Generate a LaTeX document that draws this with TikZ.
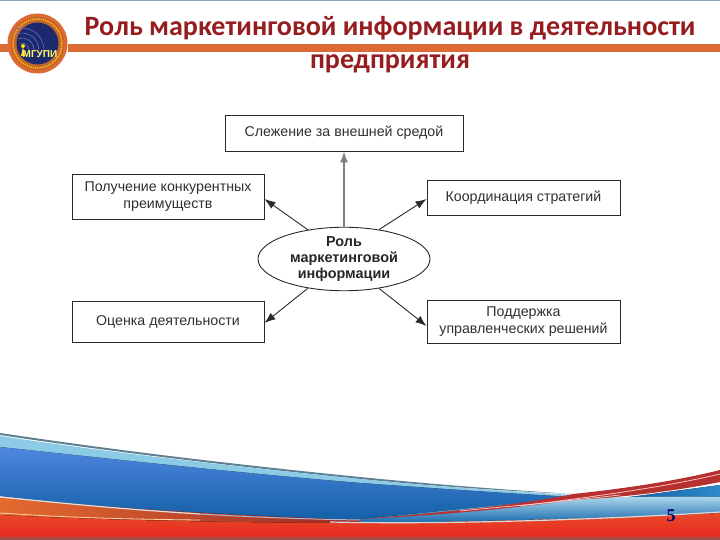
\documentclass[tikz,border=0pt]{standalone}
\usepackage{fontspec}
\setmainfont{Liberation Sans}
\newfontfamily\titlefont{Carlito}
\newfontfamily\numfont{Liberation Serif}
\usetikzlibrary{shapes.geometric,arrows.meta}
\definecolor{titlered}{HTML}{951C1F}
\definecolor{barorange}{HTML}{DD6A33}
\definecolor{inktext}{HTML}{303030}
\definecolor{boxline}{HTML}{2A2A2A}
\definecolor{bluetop}{HTML}{2E8BCB}
\definecolor{bluelow}{HTML}{135FA6}
\definecolor{lightband}{HTML}{8CCBE6}
\definecolor{redtop}{HTML}{E8492A}
\definecolor{redlow}{HTML}{E62A1E}
\definecolor{ribbon}{HTML}{B5312F}
\definecolor{slateline}{HTML}{5F7F92}
\definecolor{lognavy}{HTML}{1E2A6E}
\definecolor{logring}{HTML}{C8652B}
\definecolor{wedgeorange}{HTML}{E56A2E}
\definecolor{paleline}{HTML}{B9B4CC}
\tikzset{
 infobox/.style={draw=boxline,line width=0.9pt,fill=white,align=center,text=inktext,font=\fontsize{14.2}{17}\selectfont,inner sep=0pt},
 rolearrow/.style={draw=boxline,line width=0.9pt,-{Latex[length=11pt,width=8pt]}},
 uparrow/.style={draw=gray,line width=1.4pt,-{Latex[length=11pt,width=8pt]}},
 titletext/.style={text=titlered,font=\titlefont\bfseries\fontsize{28}{33}\selectfont,align=center,inner sep=0pt}
}
\begin{document}
\begin{tikzpicture}[x=1pt,y=-1pt]
\useasboundingbox (0,0) rectangle (720,540);
\fill[white] (0,0) rectangle (720,540);
\fill[slateline!70] (0,0) rectangle (720,1);
% title bar
\fill[barorange] (0,44) rectangle (10,52);
\fill[barorange] (68,44) rectangle (720,52);
% logo
\fill[barorange] (37.5,43.5) circle (30);
\fill[logring] (37.5,43.5) circle (27);
\draw[yellow!70!orange,line width=1.2pt,dash pattern=on 1.2pt off 1pt] (37.5,43.5) circle (24.5);
\fill[lognavy] (37.5,43.5) circle (21);
\foreach \r in {7,12,17,22}{\draw[blue!45!gray!80!white,line width=0.6pt] (22+\r,50) arc (0:-110:\r);}
\fill[yellow!85!orange] (21,56) -- (23,47) -- (25,56) -- cycle;
\fill[yellow!85!orange] (23,46) circle (2);
\node[inner sep=0pt,text=yellow!60!white,font=\bfseries\fontsize{10}{10}\selectfont] (logotext) at (40,54) {МГУПИ};
\node[titletext] (title) at (390,44.5) {Роль маркетинговой информации в деятельности\\предприятия};
% banner
\fill[slateline] (0,433) .. controls (120,451) and (240,465) .. (360,477) .. controls (440,485) and (510,490) .. (573,494) .. controls (510,491) and (440,487) .. (360,479) .. controls (240,467) and (120,453) .. (0,435) -- cycle;
\fill[lightband] (0,436) .. controls (120,454) and (240,467) .. (360,479) .. controls (440,487) and (510,491) .. (573,495) -- (573,497) .. controls (500,493) and (430,488) .. (360,483) .. controls (240,473) and (120,460) .. (0,447) -- cycle;
\fill[top color=bluetop!75!blue!80!white,middle color=bluetop,bottom color=bluelow] (0,447) .. controls (120,460) and (240,473) .. (360,483) .. controls (430,488) and (500,493) .. (573,497) -- (573,500) -- (360,521) .. controls (190,515) and (90,506) .. (0,496) -- cycle;
\fill[left color=bluelow,right color=bluetop] (720,485) -- (720,497) -- (630,497) -- cycle;
% right light section
\fill[top color=lightband!70!white,bottom color=bluelow!80!bluetop] (360,519) -- (573,498) .. controls (620,497) and (680,496) .. (720,497) -- (720,513) .. controls (620,517) and (480,522) .. (360,523) -- cycle;
% orange wedge
\fill[left color=wedgeorange,right color=ribbon!85!black] (0,497) .. controls (90,506) and (190,514) .. (360,520) -- (360,524) -- (100,524) -- (0,515) -- cycle;
\draw[gray!25,line width=1.2pt] (0,497) .. controls (60,503) and (120,509) .. (200,514);
\draw[paleline,line width=1pt] (200,514) .. controls (250,517) and (300,519) .. (360,520);
% red base
\fill[top color=redtop,bottom color=redlow] (0,515) .. controls (100,520) and (240,523) .. (360,523) .. controls (480,522) and (620,518) .. (720,513) -- (720,537) -- (0,537) -- cycle;
\fill[red!50!black!70] (0,537) rectangle (720,540);
\draw[orange!35!white,line width=0.8pt] (0,513) .. controls (60,517) and (110,519) .. (200,520);
\draw[gray!30,line width=1.2pt] (330,522) .. controls (420,524) and (560,522) .. (720,512);
% ribbon
\fill[ribbon] (360,519) .. controls (440,513) and (520,505) .. (573,494) .. controls (630,488) and (680,480) .. (720,470) -- (720,482) .. controls (680,490) and (630,497) .. (573,500) .. controls (500,510) and (440,515) .. (360,519) -- cycle;
\draw[red!25!white,line width=0.8pt] (520,506) .. controls (600,496) and (670,486) .. (720,474);
\draw[red!20!white,line width=0.7pt] (460,511) .. controls (500,507) and (540,504) .. (620,495);
\node[inner sep=0pt,text=blue!40!black,font=\numfont\bfseries\fontsize{18}{18}\selectfont] (pagenum) at (671,516) {5};
% diagram
\node[infobox,minimum width=238pt,minimum height=36pt] (watch) at (344,133) {Слежение за внешней средой};
\node[infobox,minimum width=192pt,minimum height=45pt] (gain) at (168,196.5) {Получение конкурентных\\преимуществ};
\node[infobox,minimum width=192pt,minimum height=41pt] (eval) at (168,321.5) {Оценка деятельности};
\node[infobox,minimum width=193pt,minimum height=35pt] (coord) at (523.5,197.5) {Координация стратегий};
\node[infobox,minimum width=193pt,minimum height=43pt] (support) at (523.5,321.5) {Поддержка\\управленческих решений};
\node[ellipse,draw=boxline,line width=0.9pt,fill=white,minimum width=172pt,minimum height=62pt,inner sep=0pt,align=center,text=black!85,font=\bfseries\fontsize{14.4}{16}\selectfont] (role) at (344,259) {Роль\\маркетинговой\\информации};
\draw[uparrow] (role.north) -- (watch.south);
\draw[rolearrow] (role.141) -- ([yshift=-2.5pt]gain.east);
\draw[rolearrow] (role.219) -- ([yshift=-1.5pt]eval.east);
\draw[rolearrow] (role.40) -- ([yshift=-1.5pt]coord.west);
\draw[rolearrow] (role.-40) -- ([yshift=-4.5pt]support.west);
\end{tikzpicture}
\end{document}
